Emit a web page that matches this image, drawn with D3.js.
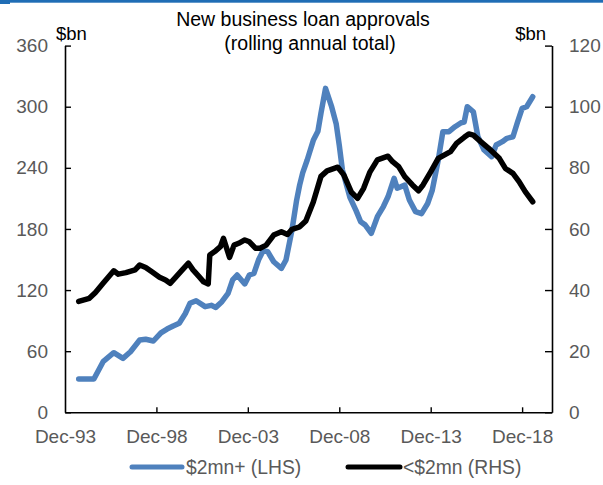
<!DOCTYPE html>
<html>
<head>
<meta charset="utf-8">
<script src="https://cdn.jsdelivr.net/npm/d3@7/dist/d3.min.js"></script>
<style>
  html, body { margin: 0; padding: 0; background: #fff; }
  svg text { font-family: "Liberation Sans", Arial, Helvetica, sans-serif; }
</style>
</head>
<body>
<svg id="chart" width="603" height="485"></svg>
<script>
// ---- data ----
const bigDates = ["1994-09","1995-07","1996-01","1996-08","1997-02","1997-07","1998-01","1998-05","1998-10","1999-03","1999-07","1999-11","2000-03","2000-07","2000-10","2001-02","2001-08","2001-12","2002-03","2002-07","2002-11","2003-02","2003-05","2003-10","2004-01","2004-04","2004-07","2004-10","2005-01","2005-05","2005-10","2006-01","2006-05","2006-08","2006-10","2006-12","2007-03","2007-07","2007-10","2007-12","2008-03","2008-07","2008-10","2008-12","2009-02","2009-05","2009-07","2009-11","2010-02","2010-05","2010-09","2011-01","2011-05","2011-08","2011-12","2012-02","2012-07","2012-10","2013-02","2013-06","2013-10","2014-01","2014-05","2014-08","2014-12","2015-04","2015-08","2015-10","2015-12","2016-04","2016-07","2016-11","2017-04","2017-07","2017-11","2018-02","2018-06","2018-09","2018-12","2019-03","2019-07"];
const bigValues = [32.7,32.7,49.7,58.5,53,59.5,71,71.7,70,78,81.7,84.7,87.4,97,107,109.5,103.7,105,103,108.6,116.8,130,134.8,126,134.8,136.4,149.5,158.6,157.7,147.8,141.3,149.5,179,208,223,235,247.7,267,276,293.5,318,300,283,262,238,222,211,198,187,184,175.7,192,202,211.6,229.7,220,223,208.4,197,195,205,218,247.7,275.5,275.5,280.4,284.3,285,300,295,270.5,257.5,251,262.4,265.7,269,270.5,285,298.4,300,309.8];

const smallDates = ["1994-09","1995-04","1995-08","1996-01","1996-08","1996-11","1997-04","1997-10","1998-01","1998-05","1998-09","1999-02","1999-06","1999-09","2000-01","2000-05","2000-09","2000-12","2001-04","2001-07","2001-10","2001-11","2002-03","2002-06","2002-08","2002-12","2003-03","2003-06","2003-10","2004-01","2004-05","2004-08","2004-12","2005-05","2005-10","2006-02","2006-05","2006-10","2007-02","2007-07","2007-12","2008-04","2008-11","2009-03","2009-08","2009-12","2010-04","2010-08","2011-01","2011-08","2011-11","2012-03","2012-07","2012-12","2013-04","2013-07","2013-12","2014-05","2014-10","2015-01","2015-05","2015-10","2016-01","2016-04","2016-09","2017-02","2017-09","2018-01","2018-06","2018-10","2019-02","2019-07"];
const smallValues = [36.3,37.3,39.2,42.2,46.3,45.2,45.7,46.6,48.2,47.4,46,44.2,43.3,42.2,44.4,46.6,48.8,46.6,44.4,42.7,42,51.5,52.9,54.2,56.9,50.7,54.7,55.3,56.4,55.8,53.7,53.7,54.7,58,59.1,58.2,59.9,60.7,62.6,68.8,77.2,79,80.2,77.7,72,70,73.3,78.5,82.6,83.8,82,80.4,77.1,74.4,72.5,74.4,78.7,83.1,84.5,85.3,88,90,91.1,90.7,88.5,86.4,83.1,79.8,78.2,75.5,72.2,68.9];

const leftTicks = [0, 60, 120, 180, 240, 300, 360];
const rightTicks = [0, 20, 40, 60, 80, 100, 120];
const xTickDates = ["1993-12","1998-12","2003-12","2008-12","2013-12","2018-12"];
const titleLines = ["New business loan approvals", "(rolling annual total)"];
const unitLabel = "$bn";
const seriesNames = ["$2mn+ (LHS)", "<$2mn (RHS)"];
const seriesColors = ["#4f81bd", "#000000"];

// ---- chart ----
const parse = d3.timeParse("%Y-%m");
const fmtX = d3.timeFormat("%b-%y");
const svg = d3.select("#chart");

const L = 65, R = 552, T = 45.6, B = 412.3;

const x = d3.scaleTime()
  .domain([parse("1993-12"), new Date(2020, 6, 20)])
  .range([L, R]);
const yL = d3.scaleLinear().domain([0, 360]).range([B, T]);
const yR = d3.scaleLinear().domain([0, 120]).range([B, T]);

// top blue rule
svg.append("rect").attr("x", 0).attr("y", 0).attr("width", 10).attr("height", 4).attr("fill", "#1f6db5");
svg.append("rect").attr("x", 10).attr("y", 0).attr("width", 593).attr("height", 2.7).attr("fill", "#1f6db5");

const labelColor = "#595959";
const fs = 19;

// left axis
const gL = svg.append("g").attr("transform", `translate(${L},0)`)
  .call(d3.axisLeft(yL).tickValues(leftTicks).tickSize(-6).tickPadding(17).tickSizeOuter(0));
// right axis
const gR = svg.append("g").attr("transform", `translate(${R},0)`)
  .call(d3.axisRight(yR).tickValues(rightTicks).tickSize(-7).tickPadding(17).tickSizeOuter(0));
// bottom axis
const gB = svg.append("g").attr("transform", `translate(0,${B})`)
  .call(d3.axisBottom(x).tickValues(xTickDates.map(parse)).tickFormat(fmtX).tickSize(-5).tickPadding(17).tickSizeOuter(0));

[gL, gR, gB].forEach(g => {
  g.select(".domain").attr("stroke", "#000").attr("stroke-width", 1.6);
  g.selectAll(".tick line").attr("stroke", "#000").attr("stroke-width", 1.4);
  g.selectAll(".tick text").attr("fill", labelColor).attr("font-size", fs)
    .attr("font-family", '"Liberation Sans", Arial, sans-serif');
});
gB.selectAll(".tick line").filter((d, i) => i === 0).remove();

// lines
const lineL = d3.line().x(d => x(d.date)).y(d => yL(d.v)).curve(d3.curveLinear);
const lineR = d3.line().x(d => x(d.date)).y(d => yR(d.v)).curve(d3.curveLinear);
const bigData = bigDates.map((d, i) => ({ date: parse(d), v: bigValues[i] }));
const smallData = smallDates.map((d, i) => ({ date: parse(d), v: smallValues[i] }));

svg.append("path").datum(bigData).attr("d", lineL)
  .attr("fill", "none").attr("stroke", seriesColors[0]).attr("stroke-width", 5.5)
  .attr("stroke-linejoin", "round").attr("stroke-linecap", "round");
svg.append("path").datum(smallData).attr("d", lineR)
  .attr("fill", "none").attr("stroke", seriesColors[1]).attr("stroke-width", 5.5)
  .attr("stroke-linejoin", "round").attr("stroke-linecap", "round");

// title
svg.append("text").attr("x", 303).attr("y", 26).attr("text-anchor", "middle")
  .attr("font-size", 19.5).attr("fill", "#000").text(titleLines[0]);
svg.append("text").attr("x", 310).attr("y", 50).attr("text-anchor", "middle")
  .attr("font-size", 19.5).attr("fill", "#000").text(titleLines[1]);

// unit labels
svg.append("text").attr("x", 56).attr("y", 40).attr("font-size", 18.5).attr("fill", "#000").text(unitLabel);
svg.append("text").attr("x", 546).attr("y", 40).attr("text-anchor", "end").attr("font-size", 18.5).attr("fill", "#000").text(unitLabel);

// legend
const legY = 467;
const leg = [
  { x1: 132, x2: 182, tx: 186 },
  { x1: 348, x2: 400, tx: 403 }
];
leg.forEach((l, i) => {
  svg.append("line").attr("x1", l.x1).attr("x2", l.x2).attr("y1", legY).attr("y2", legY)
    .attr("stroke", seriesColors[i]).attr("stroke-width", 5).attr("stroke-linecap", "round");
  svg.append("text").attr("x", l.tx).attr("y", legY + 7).attr("font-size", 19.3)
    .attr("fill", labelColor).text(seriesNames[i]);
});
</script>
</body>
</html>
